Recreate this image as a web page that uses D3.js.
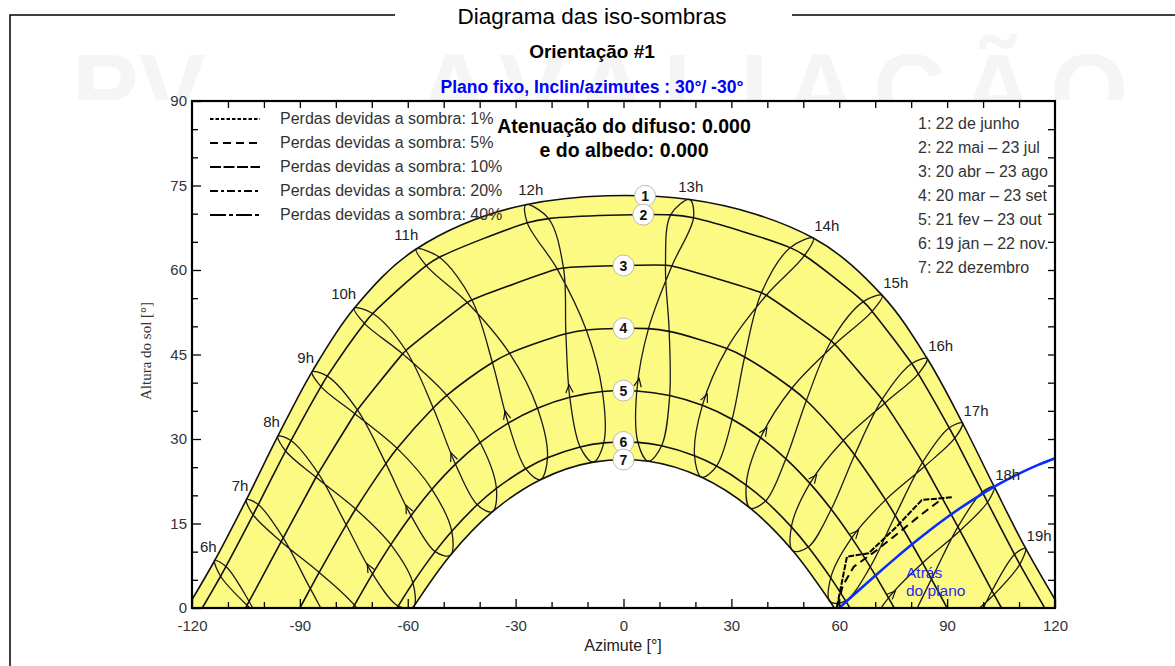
<!DOCTYPE html>
<html>
<head>
<meta charset="utf-8">
<script src="https://cdn.jsdelivr.net/npm/d3@7"></script>
<style>
  html, body { margin: 0; padding: 0; background: #fff; }
  svg { display: block; font-family: "Liberation Sans", Arial, sans-serif; }
</style>
</head>
<body>
<svg id="chart" width="1175" height="666"></svg>
<script>
// ---------------------------------------------------------------
// Sun positions [azimuth °, altitude °] at legal hours 6h ... 19h
// ---------------------------------------------------------------
const hours = [6, 7, 8, 9, 10, 11, 12, 13, 14, 15, 16, 17, 18, 19];
const hourLabels = hours.map(h => h + "h");

const jun22 = [[-113.69,8.43],[-104.88,19.23],[-96.13,30.49],[-86.62,41.93],[-74.89,53.22],[-57.64,63.73],[-27.19,71.59],[18.44,72.51],[52.78,65.67],[71.95,55.49],[84.45,44.29],[94.27,32.84],[103.09,21.53],[111.81,10.61]];
const may22 = [[-110.54,7.37],[-101.56,18.37],[-92.47,29.72],[-82.38,41.16],[-69.73,52.27],[-51.21,62.26],[-20.83,69.12],[19.46,69.26],[50.36,62.58],[69.15,52.65],[81.99,41.57],[92.13,30.14],[101.23,18.77],[110.21,7.75]];
const jul23 = [[-112.04,5.64],[-103.00,16.55],[-93.98,27.87],[-84.14,39.31],[-72.06,50.52],[-54.86,60.78],[-26.76,68.37],[13.12,69.78],[46.34,63.97],[66.69,54.38],[80.15,43.40],[90.58,31.99],[99.79,20.59],[108.74,9.50]];
const apr20 = [[-104.12,1.16],[-94.63,12.45],[-84.90,23.90],[-74.00,35.15],[-60.50,45.71],[-42.17,54.68],[-16.69,60.37],[13.45,60.70],[39.72,55.51],[58.76,46.81],[72.66,36.36],[83.77,25.16],[93.58,13.72],[103.06,2.39]];
const aug23 = [[-104.70,0.50],[-95.20,11.77],[-85.51,23.21],[-74.70,34.48],[-61.42,45.11],[-43.45,54.22],[-18.42,60.16],[11.67,60.85],[38.36,55.95],[57.79,47.39],[71.93,37.02],[83.15,25.84],[93.01,14.40],[102.48,3.06]];
const mar20 = [[-96.82,-8.00],[-87.09,3.44],[-77.12,14.77],[-66.08,25.63],[-52.92,35.51],[-36.46,43.58],[-16.02,48.68],[6.95,49.59],[28.75,46.05],[46.80,39.01],[61.13,29.74],[72.89,19.20],[83.18,8.00],[92.91,-3.44]];
const sep23 = [[-94.35,-5.13],[-84.63,6.32],[-74.48,17.57],[-62.93,28.34],[-49.13,37.75],[-31.68,45.20],[-10.35,49.34],[12.71,49.10],[33.69,44.56],[50.86,36.84],[64.29,27.17],[75.58,16.42],[85.65,5.13],[95.37,-6.32]];
const feb21 = [[-89.03,-16.37],[-79.54,-4.98],[-69.79,6.06],[-59.09,16.39],[-46.73,25.53],[-32.06,32.82],[-14.94,37.40],[3.70,38.53],[21.93,35.97],[38.13,30.22],[51.84,22.12],[63.46,12.44],[73.70,1.78],[83.26,-9.43]];
const oct23 = [[-84.35,-10.75],[-74.82,0.51],[-64.70,11.25],[-53.27,21.07],[-39.84,29.39],[-23.92,35.46],[-5.86,38.42],[12.84,37.71],[30.21,33.50],[45.17,26.48],[57.77,17.52],[68.62,7.29],[78.44,-3.68],[87.93,-15.05]];
const jan19 = [[-80.95,-21.35],[-71.99,-10.22],[-62.66,0.34],[-52.39,10.01],[-40.68,18.33],[-27.21,24.73],[-12.06,28.59],[4.01,29.40],[19.75,27.03],[34.12,21.83],[46.69,14.40],[57.63,5.35],[67.37,-4.81],[76.44,-15.69]];
const nov22 = [[-77.26,-16.72],[-68.23,-5.78],[-58.57,4.46],[-47.76,13.63],[-35.35,21.23],[-21.14,26.67],[-5.49,29.31],[10.60,28.80],[25.88,25.20],[39.52,19.00],[51.38,10.83],[61.76,1.27],[71.16,-9.22],[80.12,-20.31]];
const dec22 = [[-76.43,-20.91],[-67.69,-10.02],[-58.43,0.19],[-48.14,9.37],[-36.43,17.09],[-23.10,22.78],[-8.39,25.90],[6.92,26.05],[21.74,23.20],[35.22,17.73],[47.08,10.18],[57.49,1.12],[66.84,-9.01],[75.60,-19.84]];

// Sunrise / sunset azimuth of each numbered date curve
const horizonAz = [121.39, 117.15, 105.13, 90.0, 75.27, 62.98, 58.61];
const dateLegend = ["1: 22 de junho", "2: 22 mai \u2013 23 jul", "3: 20 abr \u2013 23 ago",
                    "4: 20 mar \u2013 23 set", "5: 21 fev \u2013 23 out", "6: 19 jan \u2013 22 nov.",
                    "7: 22 dezembro"];
const dateNumberAz = [6, 5.5, 0, 0, 0, 0, 0];

// Limit of the sun behind the plane (tilt 30°, azimuth -30°)
const behindAz  = [60, 65, 70, 75, 80, 85, 90, 95, 100, 105, 110, 115, 120];
const behindAlt = [0, 2.88, 5.73, 8.50, 11.17, 13.71, 16.10, 18.32, 20.36, 22.21, 23.86, 25.31, 26.57];

// Iso-shading curves
const iso1pct = [[59.36,0.2],[62.14,9.11],[68.14,9.71],[75.9,14.4],[82.97,19.17],[91.31,19.65]];
const iso5pct = [[59.4,0.2],[61.0,4.0],[64.0,7.3],[70.5,10.3],[77.0,13.6],[83.0,16.7],[87.6,18.9]];

const lossLegend = ["Perdas devidas a sombra: 1%", "Perdas devidas a sombra: 5%",
                    "Perdas devidas a sombra: 10%", "Perdas devidas a sombra: 20%",
                    "Perdas devidas a sombra: 40%"];
const lossDash = ["3.5,2", "8,5", "11,2.5", "8,3,3,3", "16,3,4,3"];

const xMajor = [-120, -90, -60, -30, 0, 30, 60, 90, 120];
const yMajor = [0, 15, 30, 45, 60, 75, 90];

// ---------------------------------------------------------------
const W = 1175, H = 666;
const svg = d3.select("#chart");
const x = d3.scaleLinear().domain([-120, 120]).range([192, 1055]);
const y = d3.scaleLinear().domain([0, 90]).range([608, 101]);

const defs = svg.append("defs");
defs.append("clipPath").attr("id", "plotClip").append("rect")
  .attr("x", x(-120)).attr("y", y(90)).attr("width", x(120) - x(-120)).attr("height", y(0) - y(90));
defs.append("clipPath").attr("id", "wmClip").append("rect")
  .attr("x", 0).attr("y", 0).attr("width", W).attr("height", 100);

svg.append("rect").attr("width", W).attr("height", H).attr("fill", "#fff");

// faint watermark behind the header
const wm = svg.append("g").attr("clip-path", "url(#wmClip)")
  .attr("font-size", 100).attr("font-weight", "bold").attr("fill", "#f5f5f5");
wm.append("text").attr("x", 72).attr("y", 124).text("PV");
wm.append("text").attr("x", 418).attr("y", 124).attr("textLength", 710)
  .attr("lengthAdjust", "spacing").text("AVALIA\u00c7\u00c3O");

// page frame
svg.append("path").attr("d", "M10,666V15H395M792,15H1175")
  .attr("fill", "none").attr("stroke", "#000").attr("stroke-width", 1.5);

svg.append("text").attr("x", 592).attr("y", 24).attr("text-anchor", "middle")
  .attr("font-size", 22.5).attr("fill", "#000").text("Diagrama das iso-sombras");
svg.append("text").attr("x", 592).attr("y", 58).attr("text-anchor", "middle")
  .attr("font-size", 19).attr("font-weight", "bold").attr("fill", "#000").text("Orienta\u00e7\u00e3o #1");
svg.append("text").attr("x", 592).attr("y", 93).attr("text-anchor", "middle")
  .attr("font-size", 17.5).attr("font-weight", "bold").attr("fill", "#0000ff")
  .text("Plano fixo, Inclin/azimutes : 30\u00b0/ -30\u00b0");

// plot background
svg.append("rect").attr("x", x(-120)).attr("y", y(90))
  .attr("width", x(120) - x(-120)).attr("height", y(0) - y(90)).attr("fill", "#fff");

const plot = svg.append("g").attr("clip-path", "url(#plotClip)");

const smooth = d3.line().x(d => x(d[0])).y(d => y(d[1])).curve(d3.curveCatmullRom.alpha(0.5));
const smoothClosed = d3.line().x(d => x(d[0])).y(d => y(d[1])).curve(d3.curveCatmullRomClosed.alpha(0.5));
const straight = d3.line().x(d => x(d[0])).y(d => y(d[1]));

// date curves: both dates of a pair share the same path
const curveSets = [[jun22], [may22, jul23], [apr20, aug23], [mar20, sep23], [feb21, oct23], [jan19, nov22], [dec22]];
const curvePts = curveSets.map((set, i) => {
  const pts = set.flat().filter(p => p[1] >= 1);
  pts.push([-horizonAz[i], 0], [horizonAz[i], 0]);
  return pts.sort((a, b) => a[0] - b[0]);
});

// yellow band between the summer and winter solstice paths
const bandPath = smooth(curvePts[0]) + "L" + x(horizonAz[6]) + "," + y(0) +
  smooth(curvePts[6].slice().reverse()).replace(/^M/, "L") + "Z";
plot.append("path").attr("d", bandPath).attr("fill", "#fdfa84").attr("stroke", "none");

// hour lines (analemma loops through the twelve dates)
const loopOrder = [jun22, may22, apr20, mar20, feb21, jan19, dec22, nov22, oct23, sep23, aug23, jul23];
hours.forEach((h, k) => {
  plot.append("path").attr("d", smoothClosed(loopOrder.map(a => a[k])))
    .attr("fill", "none").attr("stroke", "#1a1a1a").attr("stroke-width", 1.3);
});

// date curves
const curveNodes = curvePts.map(pts =>
  plot.append("path").attr("d", smooth(pts)).attr("fill", "none")
    .attr("stroke", "#111").attr("stroke-width", 1.6).node());

// direction arrows on the February -> March stretch of each hour line
hours.forEach((h, k) => {
  const a = feb21[k], b = mar20[k];
  if (a[1] <= 0) return;
  const ax = x(a[0]), ay = y(a[1]), bx = x(b[0]), by = y(b[1]);
  const t = 0.2;
  const px = ax + (bx - ax) * t, py = ay + (by - ay) * t;
  const len = Math.hypot(bx - ax, by - ay);
  const ux = (bx - ax) / len, uy = (by - ay) / len;
  const L = 9, ang = 0.42;
  const w1 = [px - L * (ux * Math.cos(ang) - uy * Math.sin(ang)), py - L * (uy * Math.cos(ang) + ux * Math.sin(ang))];
  const w2 = [px - L * (ux * Math.cos(-ang) - uy * Math.sin(-ang)), py - L * (uy * Math.cos(-ang) + ux * Math.sin(-ang))];
  plot.append("path").attr("d", `M${w1[0]},${w1[1]}L${px},${py}L${w2[0]},${w2[1]}`)
    .attr("fill", "none").attr("stroke", "#111").attr("stroke-width", 1.2);
});

// iso-shading curves
plot.append("path").attr("d", straight(iso1pct)).attr("fill", "none")
  .attr("stroke", "#000").attr("stroke-width", 2).attr("stroke-dasharray", "6,1.5");
plot.append("path").attr("d", straight(iso5pct)).attr("fill", "none")
  .attr("stroke", "#000").attr("stroke-width", 2).attr("stroke-dasharray", lossDash[1]);

// behind-the-plane limit
plot.append("path").attr("d", smooth(behindAz.map((a, i) => [a, behindAlt[i]])))
  .attr("fill", "none").attr("stroke", "#0a2cff").attr("stroke-width", 2.6);
svg.append("text").attr("x", 906).attr("y", 578).attr("font-size", 15.5).attr("fill", "#2a2af0").text("Atr\u00e1s");
svg.append("text").attr("x", 906).attr("y", 596).attr("font-size", 15.5).attr("fill", "#2a2af0").text("do plano");

// numbered markers on the date curves
function yAtX(node, px) {
  let lo = 0, hi = node.getTotalLength();
  for (let i = 0; i < 40; i++) {
    const mid = (lo + hi) / 2;
    if (node.getPointAtLength(mid).x < px) lo = mid; else hi = mid;
  }
  return node.getPointAtLength((lo + hi) / 2).y;
}
curveNodes.forEach((node, i) => {
  const cx = x(dateNumberAz[i]), cy = yAtX(node, cx);
  const g = svg.append("g");
  g.append("circle").attr("cx", cx).attr("cy", cy).attr("r", 10.5)
    .attr("fill", "#fff").attr("stroke", "#aaa").attr("stroke-width", 0.8);
  g.append("text").attr("x", cx).attr("y", cy + 5).attr("text-anchor", "middle")
    .attr("font-size", 14).attr("font-weight", "bold").attr("fill", "#111").text(i + 1);
});

// hour labels next to the 22 June position
hours.forEach((h, k) => {
  const p = jun22[k], px = x(p[0]), py = y(p[1]);
  let tx, ty, anchor;
  if (h < 12) { tx = px + 2; ty = py - 9; anchor = "end"; }
  else if (h === 12) { tx = px + 5; ty = py - 10; anchor = "middle"; }
  else if (h === 13) { tx = px + 1; ty = py - 8; anchor = "middle"; }
  else { tx = px + 1; ty = py - 7; anchor = "start"; }
  svg.append("text").attr("x", tx).attr("y", ty).attr("text-anchor", anchor)
    .attr("font-size", 15).attr("fill", "#222").text(hourLabels[k]);
});

// shading-loss legend
lossLegend.forEach((t, i) => {
  const yy = 119 + i * 24;
  svg.append("line").attr("x1", 210).attr("x2", 260).attr("y1", yy).attr("y2", yy)
    .attr("stroke", "#000").attr("stroke-width", 2.2).attr("stroke-dasharray", lossDash[i]);
  svg.append("text").attr("x", 280).attr("y", yy + 5).attr("font-size", 16)
    .attr("fill", "#333").text(t);
});

svg.append("text").attr("x", 624).attr("y", 133).attr("text-anchor", "middle")
  .attr("font-size", 19.5).attr("font-weight", "bold").attr("fill", "#000").text("Atenua\u00e7\u00e3o do difuso: 0.000");
svg.append("text").attr("x", 624).attr("y", 157).attr("text-anchor", "middle")
  .attr("font-size", 19.5).attr("font-weight", "bold").attr("fill", "#000").text("e do albedo: 0.000");

// date legend
dateLegend.forEach((t, i) => {
  svg.append("text").attr("x", 918).attr("y", 129 + i * 24).attr("font-size", 16)
    .attr("fill", "#333").text(t);
});

// axes
function styleAxis(g) {
  g.select(".domain").remove();
  g.selectAll(".tick line").attr("stroke", "#000").attr("stroke-width", 1.3);
  g.selectAll(".tick text").attr("font-size", 15).attr("fill", "#333")
    .attr("font-family", "Liberation Sans, Arial, sans-serif");
}
const xMinor = d3.range(-110, 120, 10).filter(v => !xMajor.includes(v));
const yMinor = d3.range(5, 90, 5).filter(v => !yMajor.includes(v));
const plainNum = d => String(d);

svg.append("g").attr("transform", `translate(0,${y(0)})`)
  .call(d3.axisBottom(x).tickValues(xMajor).tickSize(-9).tickPadding(12).tickFormat(plainNum)).call(styleAxis);
svg.append("g").attr("transform", `translate(0,${y(0)})`)
  .call(d3.axisBottom(x).tickValues(xMinor).tickSize(-6).tickFormat("")).call(styleAxis);
svg.append("g").attr("transform", `translate(0,${y(90)})`)
  .call(d3.axisTop(x).tickValues(d3.range(-110, 120, 10)).tickSize(-7).tickFormat("")).call(styleAxis);
svg.append("g").attr("transform", `translate(${x(-120)},0)`)
  .call(d3.axisLeft(y).tickValues(yMajor).tickSize(-9).tickPadding(5).tickFormat(plainNum)).call(styleAxis);
svg.append("g").attr("transform", `translate(${x(-120)},0)`)
  .call(d3.axisLeft(y).tickValues(yMinor).tickSize(-6).tickFormat("")).call(styleAxis);
svg.append("g").attr("transform", `translate(${x(120)},0)`)
  .call(d3.axisRight(y).tickValues(d3.range(5, 90, 5)).tickSize(-7).tickFormat("")).call(styleAxis);

svg.append("rect").attr("x", x(-120)).attr("y", y(90))
  .attr("width", x(120) - x(-120)).attr("height", y(0) - y(90))
  .attr("fill", "none").attr("stroke", "#000").attr("stroke-width", 2.2);

svg.append("text").attr("x", 623).attr("y", 651).attr("text-anchor", "middle")
  .attr("font-size", 16).attr("fill", "#222").text("Azimute [\u00b0]");
svg.append("text").attr("transform", "translate(151,351) rotate(-90)").attr("text-anchor", "middle")
  .attr("font-size", 15).attr("font-family", "Liberation Serif, Times New Roman, serif")
  .attr("fill", "#333").text("Altura do sol [\u00b0]");
</script>
</body>
</html>
